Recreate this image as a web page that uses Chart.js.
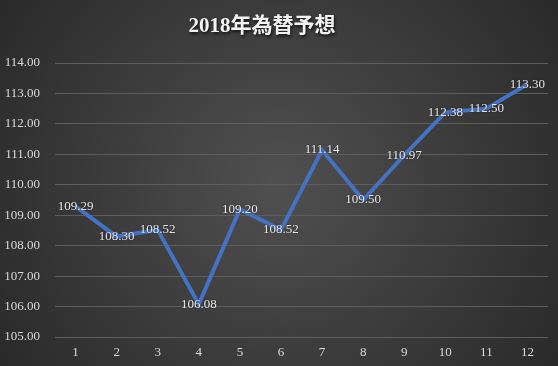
<!DOCTYPE html>
<html>
<head>
<meta charset="utf-8">
<script src="https://cdn.jsdelivr.net/npm/chart.js@4"></script>
<style>
  html, body { margin: 0; padding: 0; background: #333; }
  canvas { display: block; }
</style>
</head>
<body>
<canvas id="chart" width="558" height="366"></canvas>
<script>
const months = ["1", "2", "3", "4", "5", "6", "7", "8", "9", "10", "11", "12"];
const rates = [109.29, 108.30, 108.52, 106.08, 109.20, 108.52, 111.14, 109.50, 110.97, 112.38, 112.50, 113.30];
const chartTitle = "2018年為替予想";

const serif = "'Liberation Serif', 'Times New Roman', 'Noto Sans CJK JP', serif";

// radial dark background like the office chart style
const backgroundPlugin = {
    id: "bg",
    beforeDraw(chart) {
        const c = chart.ctx;
        const w = chart.width, h = chart.height;
        const g = c.createRadialGradient(w / 2, h / 2, 0, w / 2, h / 2, w * 0.62);
        g.addColorStop(0, "#505050");
        g.addColorStop(1, "#282828");
        c.save();
        c.fillStyle = g;
        c.fillRect(0, 0, w, h);
        c.restore();
    }
};

// value labels centred on each point
const labelPlugin = {
    id: "valueLabels",
    afterDatasetsDraw(chart) {
        const c = chart.ctx;
        const meta = chart.getDatasetMeta(0);
        c.save();
        c.font = "13px " + serif;
        c.fillStyle = "#e6e6e6";
        c.textAlign = "center";
        c.textBaseline = "middle";
        c.shadowColor = "rgba(0,0,0,0.5)";
        c.shadowBlur = 2;
        meta.data.forEach((pt, i) => {
            c.fillText(rates[i].toFixed(2), pt.x, pt.y);
        });
        c.restore();
    }
};

const titlePlugin = {
    id: "shadowTitle",
    afterDraw(chart) {
        const c = chart.ctx;
        c.save();
        c.font = "bold 21px " + serif;
        c.fillStyle = "#f2f2f2";
        c.textAlign = "center";
        c.textBaseline = "middle";
        c.shadowColor = "rgba(0,0,0,0.7)";
        c.shadowBlur = 3;
        c.shadowOffsetX = 1;
        c.shadowOffsetY = 2;
        c.fillText(chartTitle, 262, 27);
        c.restore();
    }
};

new Chart(document.getElementById("chart"), {
    type: "line",
    data: {
        labels: months,
        datasets: [{
            data: rates,
            borderColor: "#4472C4",
            borderWidth: 4,
            pointRadius: 0,
            tension: 0,
            fill: false
        }]
    },
    options: {
        responsive: false,
        animation: false,
        layout: { padding: { top: 63, left: 0, right: 10, bottom: 0 } },
        plugins: {
            legend: { display: false },
            tooltip: { enabled: false },
            title: { display: false }
        },
        scales: {
            x: {
                offset: true,
                grid: { display: false },
                border: { display: false },
                ticks: { color: "#d9d9d9", font: { family: serif, size: 13 }, padding: 0 },
                afterFit: s => { s.height = 29; }
            },
            y: {
                min: 105,
                max: 114,
                ticks: {
                    stepSize: 1,
                    color: "#d9d9d9",
                    font: { family: serif, size: 13 },
                    padding: 15,
                    callback: v => v.toFixed(2)
                },
                grid: { color: "#5e5e5e", lineWidth: 1, drawTicks: false },
                border: { display: false },
                afterFit: s => { s.width = 55; }
            }
        }
    },
    plugins: [backgroundPlugin, labelPlugin, titlePlugin]
});
</script>
</body>
</html>
